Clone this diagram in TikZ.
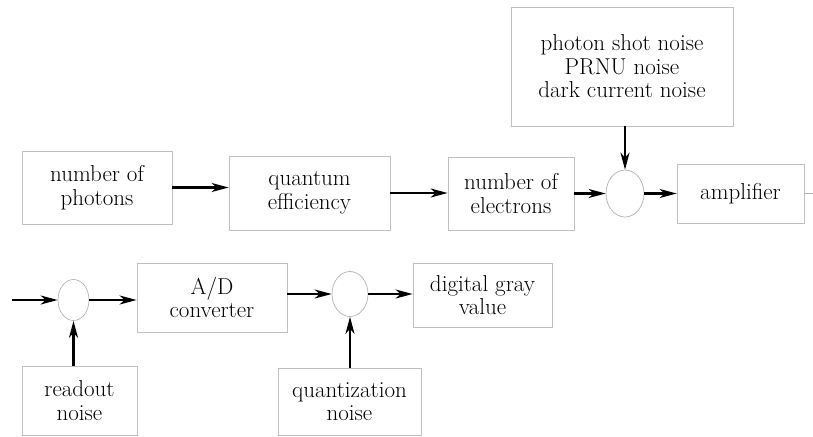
\documentclass[tikz,border=0pt]{standalone}
\usetikzlibrary{arrows.meta,shapes.geometric}
\begin{document}
\begin{tikzpicture}[x=1pt,y=-1pt,
  box/.style={draw=black!25,line width=0.8pt,align=center,inner sep=0pt,
    font=\fontsize{23}{23.5}\selectfont},
  sumnode/.style={draw=black!30,line width=0.7pt,ellipse,inner sep=0pt},
  flow/.style={line width=2.2pt,-{Stealth[length=17pt,width=9pt,inset=5pt]}},
  thin/.style={draw=black!30,line width=0.8pt}]
\useasboundingbox (0,0) rectangle (813,436);
% top row
\node[box,minimum width=150pt,minimum height=73pt] (n1) at (97,187.5) {number of\\photons};
\node[box,minimum width=161pt,minimum height=74pt] (n2) at (309.5,193) {quantum\\efficiency};
\node[box,minimum width=126pt,minimum height=73pt] (n3) at (511,193.5) {number of\\electrons};
\node[sumnode,minimum width=38pt,minimum height=47pt] (c1) at (625,193.5) {};
\node[box,minimum width=222pt,minimum height=119pt] (nz) at (622,66.5) {photon shot noise\\PRNU noise\\dark current noise};
\node[box,minimum width=127pt,minimum height=59pt] (amp) at (740.5,193.5) {amplifier};
\coordinate (rout) at (813,193.5);
% bottom row
\node[sumnode,minimum width=31pt,minimum height=41pt] (c2) at (73.5,300) {};
\coordinate (lin) at (12,300);
\node[box,minimum width=150pt,minimum height=69pt] (ad) at (212,297.5) {A/D\\converter};
\node[sumnode,minimum width=36pt,minimum height=45pt] (c3) at (350,294) {};
\node[box,minimum width=139pt,minimum height=64pt] (dg) at (482.5,295) {digital gray\\value};
\node[box,minimum width=115pt,minimum height=69pt] (ro) at (79.5,400.5) {readout\\noise};
\node[box,minimum width=143pt,minimum height=67pt] (qn) at (349.5,401.5) {quantization\\noise};
% connectors
\draw[flow] (n1.east) -- (n1.east -| n2.west);
\draw[flow] (n2.east) -- (n2.east -| n3.west);
\draw[flow] (n3.east) -- (c1.west);
\draw[flow] (c1 |- nz.south) -- (c1.north);
\draw[flow] (c1.east) -- (c1.east -| amp.west);
\draw[thin] (amp.east) -- (rout);
\draw[flow] (lin) -- (c2.west);
\draw[flow] (c2.east) -- (c2.east -| ad.west);
\draw[flow] (ad.east |- c3) -- (c3.west);
\draw[flow] (c3.east) -- (c3.east -| dg.west);
\draw[flow] (c2 |- ro.north) -- (c2.south);
\draw[flow] (c3 |- qn.north) -- (c3.south);
\end{tikzpicture}
\end{document}
